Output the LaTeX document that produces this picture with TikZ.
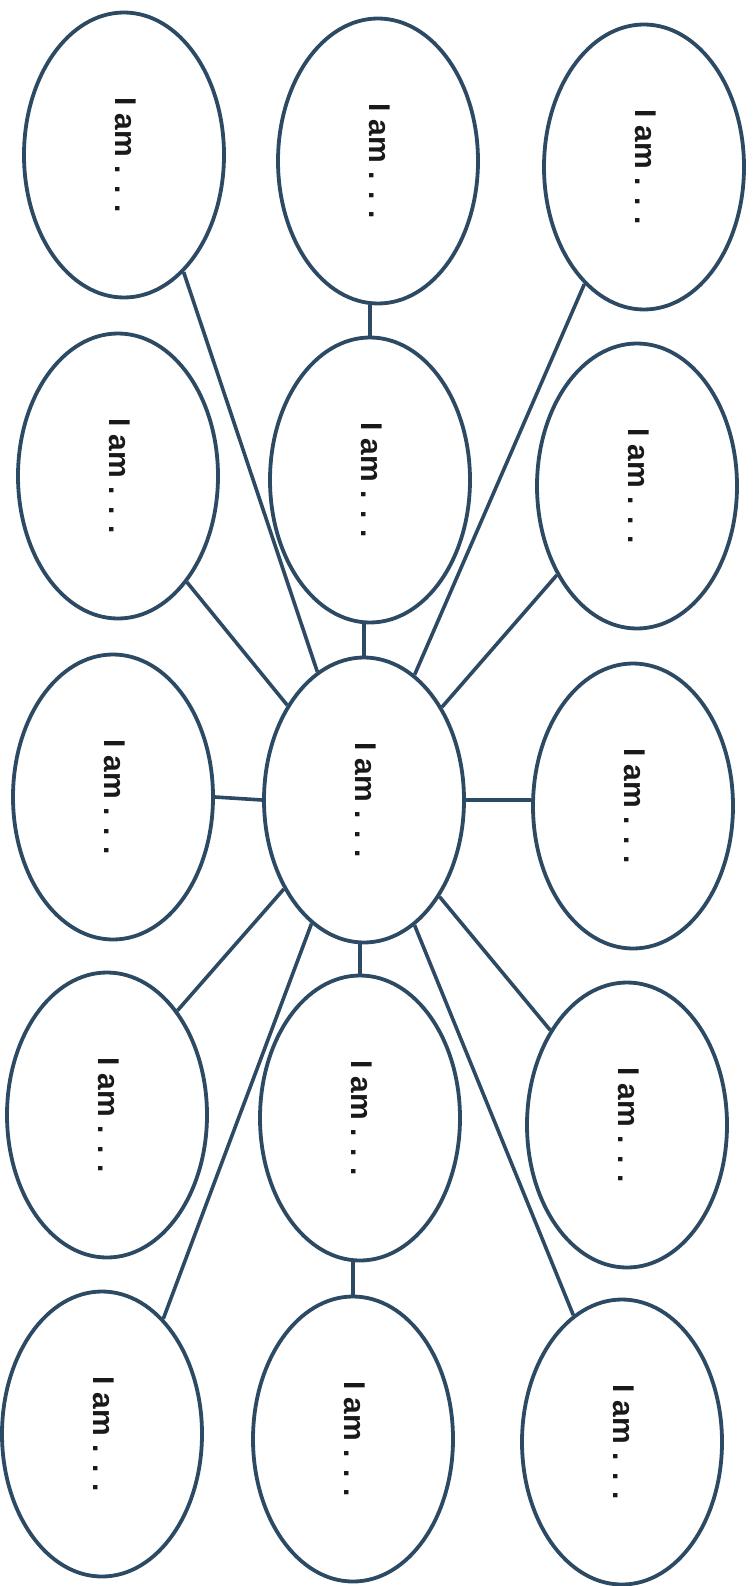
\documentclass[tikz,border=0pt]{standalone}
\usepackage{fontspec}
\setmainfont{Liberation Sans}
\usetikzlibrary{shapes.geometric,backgrounds}
\definecolor{edgeblue}{RGB}{44,74,99}
\tikzset{
  bubble/.style={ellipse, draw=edgeblue, line width=3.8pt, fill=white,
    minimum width=200pt, minimum height=285pt, inner sep=0pt},
  lbl/.style={rotate=-90, font=\fontsize{30}{36}\selectfont\bfseries, text=black!90},
  link/.style={draw=edgeblue, line width=3.6pt}
}
\begin{document}
\begin{tikzpicture}[x=1pt,y=-1pt]
\useasboundingbox (0,0) rectangle (752,1586);
% row 1
\node[bubble] (aL) at (124,155) {};
\node[bubble] (aM) at (378,161) {};
\node[bubble] (aR) at (644,167) {};
% row 2
\node[bubble] (bL) at (118,476) {};
\node[bubble] (bM) at (370,480) {};
\node[bubble] (bR) at (637,486) {};
% row 3
\node[bubble] (cL) at (113,797) {};
\node[bubble] (C)  at (364,800) {};
\node[bubble] (cR) at (633,806) {};
% row 4
\node[bubble] (dL) at (107,1115) {};
\node[bubble] (dM) at (360,1118) {};
\node[bubble] (dR) at (627,1125) {};
% row 5
\node[bubble] (eL) at (102,1434) {};
\node[bubble] (eM) at (353,1439) {};
\node[bubble] (eR) at (622,1442) {};
% labels
\foreach \n in {aL,aM,aR,bL,bM,bR,cL,C,cR,dL,dM,dR,eL,eM,eR}{
  \node[lbl] (t\n) at ([xshift=2pt]\n.center) {I am . . .};
}
\begin{pgfonlayer}{background}
\draw[link] (aL.297) -- (C.110);
\draw[link] (aR.243) -- (C.68);
\draw[link] (aM.south -| bM.north) -- (bM.north);
\draw[link] (bM.south -| C.north) -- (C.north);
\draw[link] (bL.303) -- (C.129);
\draw[link] (bR.228) -- (C.50);
\draw[link] (cL.east) -- (C.west);
\draw[link] (C.east) -- (C.east -| cR.west);
\draw[link] (dL.56) -- (C.228);
\draw[link] (dR.129) -- (C.308);
\draw[link] (C.south -| dM.north) -- (dM.north);
\draw[link] (dM.south -| eM.north) -- (eM.north);
\draw[link] (eL.62) -- (C.247);
\draw[link] (eR.111) -- (C.292);
\end{pgfonlayer}
\end{tikzpicture}
\end{document}
